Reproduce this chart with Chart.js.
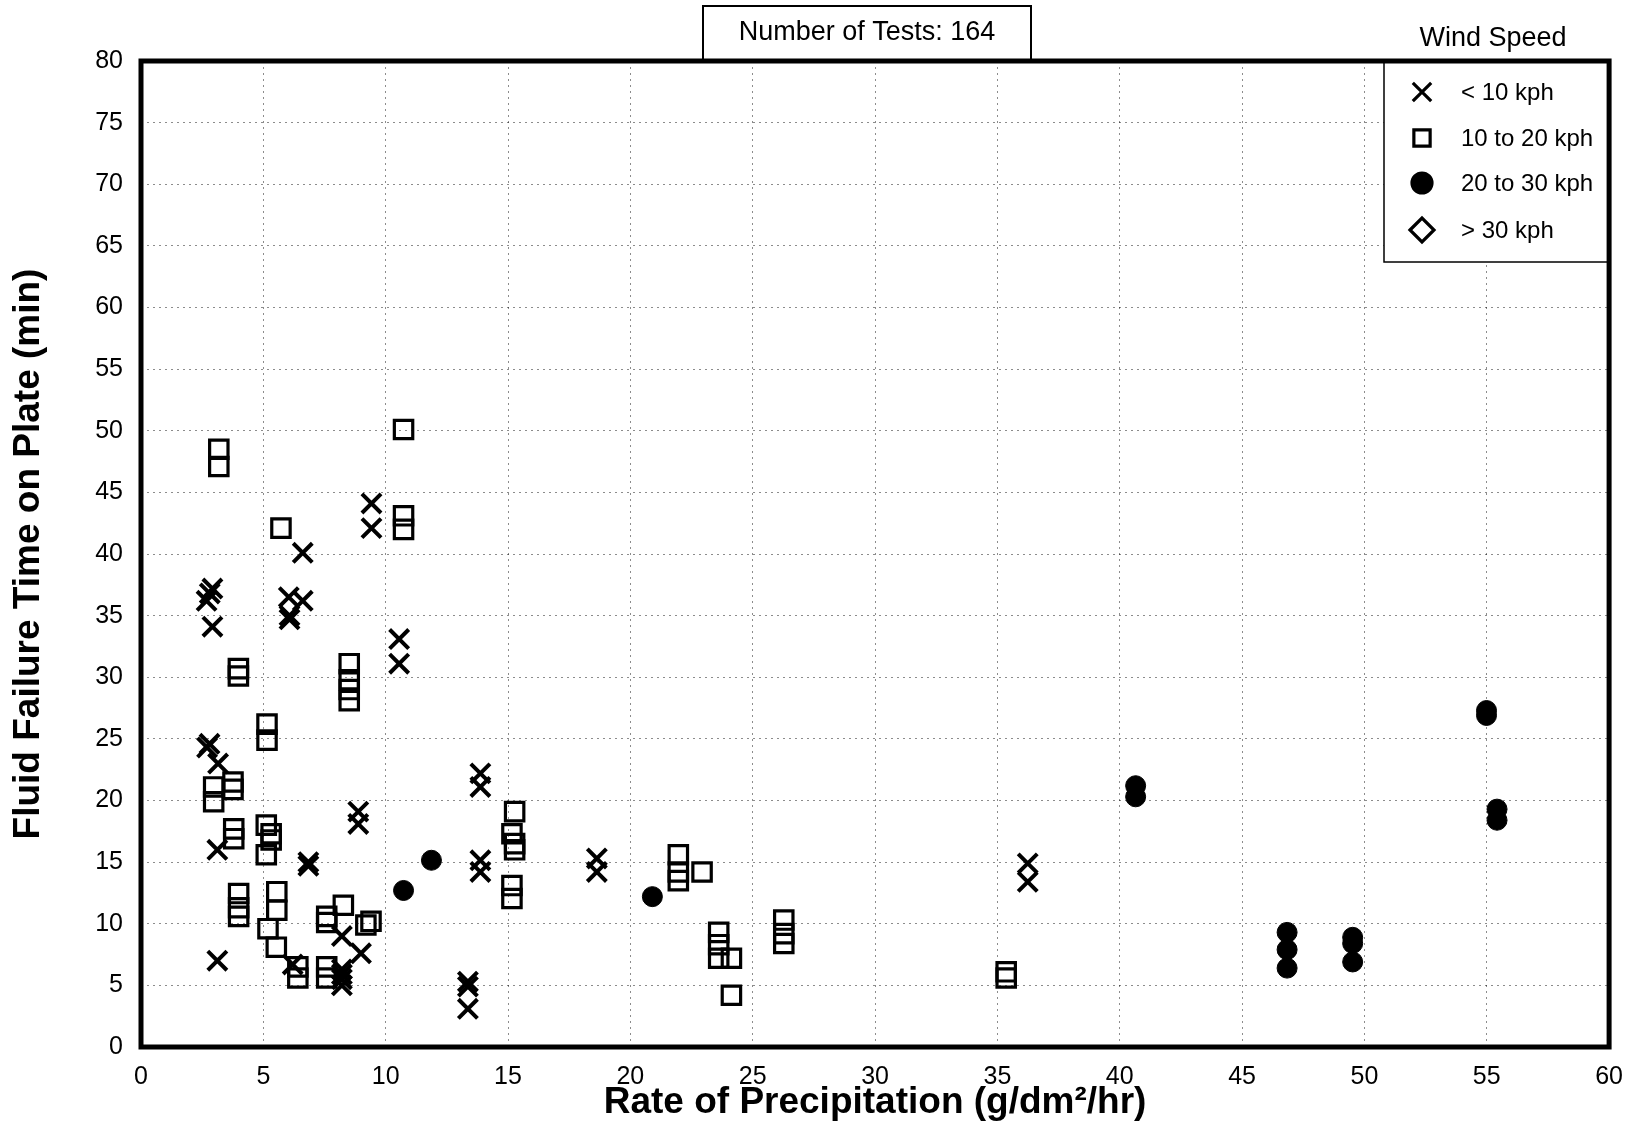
<!DOCTYPE html>
<html>
<head>
<meta charset="utf-8">
<script src="https://cdn.jsdelivr.net/npm/chart.js@4"></script>
<style>
  body { margin: 0; background: #fff; }
</style>
</head>
<body>
<canvas id="rateChart" width="1638" height="1148"></canvas>
<script>
// wind speed < 10 kph
const lowX = [2.7, 2.8, 3.15, 2.92, 2.81, 2.68, 2.92, 3.12, 3.12, 6.61, 6.04, 6.61, 6.07, 6.07,
  6.84, 6.84, 6.2, 8.88, 8.88, 9.42, 9.42, 10.55, 10.55, 8.21, 8.99, 8.21, 8.21, 8.21, 8.21,
  13.87, 13.87, 13.87, 13.87, 13.36, 13.36, 13.36, 18.63, 18.63, 36.24, 36.24];
const lowY = [24.3, 24.6, 23.0, 37.2, 36.8, 36.2, 34.1, 16.0, 7.0, 40.1, 36.5, 36.2, 35.0, 34.7,
  15.0, 14.7, 6.7, 19.1, 18.1, 44.1, 42.1, 33.1, 31.1, 9.0, 7.6, 6.3, 5.9, 5.5, 5.0,
  22.2, 21.1, 15.15, 14.2, 5.3, 4.9, 3.1, 15.3, 14.2, 14.9, 13.4];

// 10 to 20 kph
const midX = [10.73, 3.18, 3.18, 10.73, 10.73, 5.72, 3.98, 3.98, 8.51, 8.51, 8.51, 8.51,
  5.15, 5.15, 3.76, 3.76, 2.97, 2.97, 3.79, 3.79, 5.12, 5.32, 5.32, 5.12, 3.99, 3.99, 3.99,
  5.55, 5.55, 5.19, 5.53, 8.27, 7.59, 7.59, 9.19, 9.4, 6.41, 6.41, 7.59, 7.59,
  15.27, 15.16, 15.27, 15.27, 15.16, 15.16, 21.96, 21.96, 21.96, 22.93, 23.61, 23.61, 23.61,
  24.13, 24.13, 26.27, 26.27, 26.27, 35.36, 35.36];
const midY = [50.1, 48.5, 47.1, 43.1, 42.0, 42.1, 30.7, 30.1, 31.1, 29.8, 29.0, 28.1,
  26.2, 24.9, 21.5, 20.9, 21.1, 19.9, 17.7, 16.9, 18.0, 17.3, 16.8, 15.6, 12.45, 11.3, 10.6,
  12.6, 11.1, 9.6, 8.1, 11.5, 10.6, 10.1, 9.9, 10.2, 6.5, 5.6, 6.5, 5.6,
  19.1, 17.3, 16.5, 16.0, 13.1, 12.05, 15.6, 14.2, 13.5, 14.2, 9.3, 8.3, 7.2,
  7.2, 4.2, 10.3, 9.2, 8.4, 6.1, 5.6];

// 20 to 30 kph
const highX = [11.87, 10.73, 20.9, 40.65, 40.65, 54.99, 54.99, 55.42, 55.42,
  46.84, 46.84, 46.84, 49.52, 49.52, 49.52];
const highY = [15.15, 12.7, 12.2, 21.2, 20.3, 27.3, 26.9, 19.3, 18.4,
  9.3, 7.9, 6.4, 8.9, 8.4, 6.9];

// > 30 kph (none plotted)
const topX = [];
const topY = [];

const seriesNames = ['< 10 kph', '10 to 20 kph', '20 to 30 kph', '> 30 kph'];
const testCount = 164;

const FONT = '"Liberation Sans Narrow", "Liberation Sans", Arial, sans-serif';

const toPoints = (xs, ys) => xs.map((x, i) => ({ x: x, y: ys[i] }));

const seriesStyles = [
  { pointStyle: 'crossRot', pointRadius: 13.5, pointBorderWidth: 4, pointBackgroundColor: '#000' },
  { pointStyle: 'rect', pointRadius: 13, pointBorderWidth: 3.2, pointBackgroundColor: 'rgba(0,0,0,0)' },
  { pointStyle: 'circle', pointRadius: 10, pointBorderWidth: 1, pointBackgroundColor: '#000' },
  { pointStyle: 'rectRot', pointRadius: 12, pointBorderWidth: 3, pointBackgroundColor: 'rgba(0,0,0,0)' }
];

const allX = [lowX, midX, highX, topX];
const allY = [lowY, midY, highY, topY];

// box round the plot, legend and test count
const framePlugin = {
  id: 'frame',
  afterDraw(chart) {
    const ctx = chart.ctx;
    const a = chart.chartArea;
    ctx.save();

    // legend box
    const lx = 1384, ly = a.top, lw = a.right - 1384, lh = 262 - a.top;
    ctx.fillStyle = '#fff';
    ctx.fillRect(lx, ly, lw, lh);
    ctx.strokeStyle = '#000';
    ctx.lineWidth = 1.5;
    ctx.strokeRect(lx, ly, lw, lh);

    ctx.fillStyle = '#000';
    ctx.font = '27px ' + FONT;
    ctx.textAlign = 'center';
    ctx.textBaseline = 'middle';
    ctx.fillText('Wind Speed', 1493, 39);

    const rowY = [92, 138, 183, 230];
    const legendRadius = [13, 11.5, 10, 12];
    chart.data.datasets.forEach((ds, i) => {
      const st = seriesStyles[i];
      ctx.strokeStyle = '#000';
      ctx.fillStyle = st.pointBackgroundColor;
      ctx.lineWidth = 3.2;
      Chart.helpers.drawPoint(ctx, {
        pointStyle: st.pointStyle,
        radius: legendRadius[i],
        borderWidth: 3,
        rotation: 0
      }, 1422, rowY[i]);
      ctx.fillStyle = '#000';
      ctx.font = '24px ' + FONT;
      ctx.textAlign = 'left';
      ctx.fillText(ds.label, 1461, rowY[i] + 1);
    });

    // test count box
    ctx.fillStyle = '#fff';
    ctx.fillRect(703, 6, 328, a.top - 6);
    ctx.strokeStyle = '#000';
    ctx.lineWidth = 2;
    ctx.strokeRect(703, 6, 328, a.top - 6);
    ctx.fillStyle = '#000';
    ctx.font = '27px ' + FONT;
    ctx.textAlign = 'center';
    ctx.fillText('Number of Tests: ' + testCount, 867, 33);

    // heavy plot border
    ctx.strokeStyle = '#000';
    ctx.lineWidth = 5;
    ctx.strokeRect(a.left, a.top, a.right - a.left, a.bottom - a.top);
    ctx.restore();
  }
};

const rateChart = document.getElementById('rateChart');

new Chart(rateChart, {
  type: 'scatter',
  data: {
    datasets: seriesNames.map((name, i) => Object.assign({
      label: name,
      data: toPoints(allX[i], allY[i]),
      borderColor: '#000',
      pointBorderColor: '#000',
      pointHoverRadius: 13
    }, seriesStyles[i]))
  },
  options: {
    responsive: false,
    animation: false,
    devicePixelRatio: 1,
    layout: {
      padding: { left: 0, right: 24, top: 61, bottom: 0 }
    },
    plugins: {
      legend: { display: false },
      tooltip: { enabled: false }
    },
    scales: {
      x: {
        type: 'linear',
        min: 0,
        max: 60,
        afterFit(scale) { scale.height = 101; },
        ticks: {
          stepSize: 5,
          color: '#000',
          padding: 15,
          font: { family: FONT, size: 25 }
        },
        grid: {
          color: 'rgba(0,0,0,0.45)',
          lineWidth: 1,
          drawTicks: false
        },
        border: { display: false, dash: [2, 4] },
        title: {
          display: true,
          text: 'Rate of Precipitation (g/dm²/hr)',
          color: '#000',
          font: { family: FONT, size: 37, weight: 'bold' },
          padding: { top: 0, bottom: 23 }
        }
      },
      y: {
        type: 'linear',
        min: 0,
        max: 80,
        afterFit(scale) { scale.width = 141; },
        ticks: {
          stepSize: 5,
          color: '#000',
          padding: 18,
          font: { family: FONT, size: 25 }
        },
        grid: {
          color: 'rgba(0,0,0,0.45)',
          lineWidth: 1,
          drawTicks: false
        },
        border: { display: false, dash: [2, 4] },
        title: {
          display: true,
          text: 'Fluid Failure Time on Plate (min)',
          color: '#000',
          font: { family: FONT, size: 37, weight: 'bold' },
          padding: { top: 7, bottom: 0 }
        }
      }
    }
  },
  plugins: [framePlugin]
});
</script>
</body>
</html>
